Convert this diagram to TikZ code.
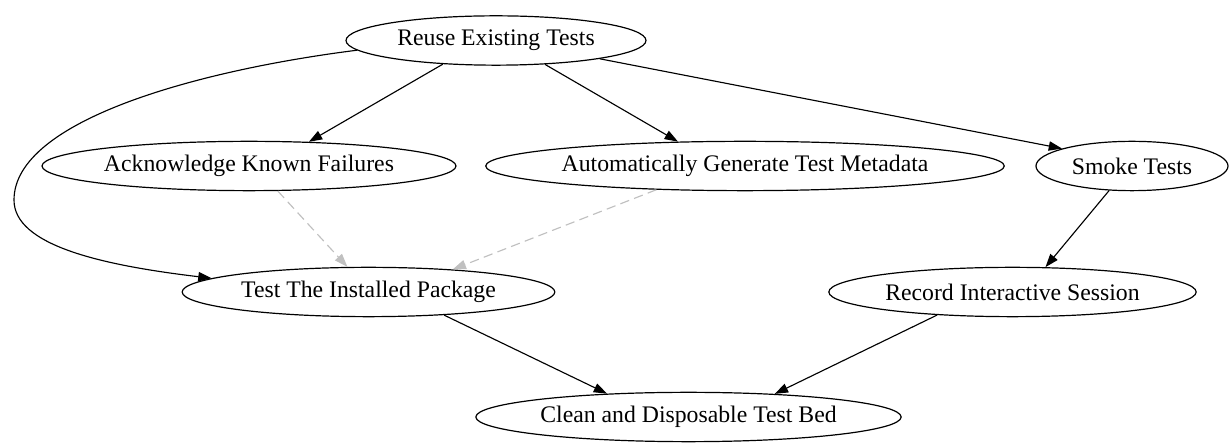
\documentclass[tikz,border=0pt]{standalone}
\usepackage{fontspec}
\setmainfont{Liberation Serif}
\usetikzlibrary{shapes.geometric,arrows.meta}
\definecolor{lgray}{RGB}{192,192,192}
\begin{document}
\begin{tikzpicture}[x=0.75pt,y=-0.75pt,
  nd/.style={draw,ellipse,inner sep=0pt,minimum height=37pt,line width=0.9pt,font=\fontsize{17.8}{20}\selectfont},
  edge/.style={draw,line width=0.85pt,-{Triangle[length=10pt,width=7pt]}},
  soft/.style={edge,color=lgray,dash pattern=on 7pt off 4pt}]
\useasboundingbox[fill=white] (0,0) rectangle (1229,448);
\node[nd,minimum width=225pt] (reuse) at (496,40.5) {Reuse Existing Tests};
\node[nd,minimum width=310.5pt] (ack) at (249,166) {Acknowledge Known Failures};
\node[nd,minimum width=388.5pt] (auto) at (745,166) {Automatically Generate Test Metadata};
\node[nd,minimum width=144pt] (smoke) at (1132,166) {Smoke Tests};
\node[nd,minimum width=279.5pt] (pkg) at (368.5,292) {Test The Installed Package};
\node[nd,minimum width=275.5pt] (rec) at (1012.5,292) {Record Interactive Session};
\node[nd,minimum width=319pt] (clean) at (688.5,417) {Clean and Disposable Test Bed};

\draw[edge] (reuse.204) -- (ack.22);
\draw[edge] (reuse.334) -- (auto.160);
\draw[edge] (reuse.350) -- (smoke.166);
\draw[edge] (reuse.184) .. controls (200,70) and (14,120) .. (14,200)
  .. controls (14,245) and (100,265) .. (pkg.175);
\draw[soft] (ack.-41.5) -- (pkg.130);
\draw[soft] (auto.195) -- (pkg.15);
\draw[edge] (smoke.227) -- (rec.37.5);
\draw[edge] (pkg.-17) -- (clean.164);
\draw[edge] (rec.197.5) -- (clean.15.5);
\end{tikzpicture}
\end{document}
